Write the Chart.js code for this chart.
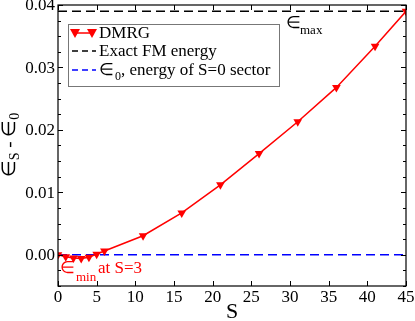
<!DOCTYPE html>
<html><head><meta charset="utf-8">
<script src="https://cdn.jsdelivr.net/npm/chart.js@4.4.0/dist/chart.umd.min.js"></script>
<style>html,body{margin:0;padding:0;background:#fff}#c{display:block}
.pre{font-family:"Liberation Serif";position:absolute;left:-999px}</style>
</head><body>
<span class="pre">0.04 ∈ S</span>
<canvas id="c" width="415" height="321"></canvas>
<script>
const sValues = [0,1,2,3,4,5,6,11,16,21,26,31,36,41,45];
const dmrgValues = [0,-0.0003,-0.0005,-0.0006,-0.0004,0.0001,0.0006,0.00305,0.0067,0.0112,0.0162,0.0213,0.0268,0.0334,0.039];
const exactFM = 0.039;
const e0 = 0;
const xRange = [0,45];
const yRange = [-0.005,0.04];
const xTickLabels = ['0','5','10','15','20','25','30','35','40','45'];
const yTickLabels = ['0.00','0.01','0.02','0.03','0.04'];

const SERIF = '"Liberation Serif", serif';

const framePlugin = {
  id:'frame',
  afterDraw(chart){
    const ctx = chart.ctx, a = chart.chartArea, xs = chart.scales.x, ys = chart.scales.y;
    ctx.save();
    ctx.strokeStyle='#000'; ctx.lineWidth=1.2;
    ctx.strokeRect(a.left, a.top, a.right-a.left, a.bottom-a.top);
    ctx.lineWidth=1;
    for(let v=0; v<=45; v+=5){
      const px = Math.round(xs.getPixelForValue(v))+0.5;
      ctx.beginPath(); ctx.moveTo(px,a.bottom); ctx.lineTo(px,a.bottom-5);
      ctx.moveTo(px,a.top); ctx.lineTo(px,a.top+5); ctx.stroke();
    }
    for(let i=-2;i<=16;i++){
      const v=i*0.0025; const py=Math.round(ys.getPixelForValue(v))+0.5;
      const len = (i%4===0)?5:3;
      ctx.beginPath(); ctx.moveTo(a.left,py); ctx.lineTo(a.left+len,py);
      ctx.moveTo(a.right,py); ctx.lineTo(a.right-len,py); ctx.stroke();
    }
    ctx.fillStyle='#000'; ctx.font='17px '+SERIF;
    ctx.textAlign='center'; ctx.textBaseline='top';
    xTickLabels.forEach(t=>{ ctx.fillText(t, xs.getPixelForValue(+t), a.bottom+3); });
    ctx.textAlign='right'; ctx.textBaseline='middle';
    yTickLabels.forEach(t=>{ ctx.fillText(t, a.left-3, ys.getPixelForValue(+t)+1); });
    ctx.font='22px '+SERIF; ctx.textAlign='center'; ctx.textBaseline='alphabetic';
    ctx.fillText('S', (a.left+a.right)/2, 318);
    ctx.save();
    ctx.translate(15, 145); ctx.rotate(-Math.PI/2);
    ctx.textAlign='left';
    const parts=[['∈','19px',0],['S','14px',4],[' - ∈','19px',0],['0','14px',4]];
    let w=0; parts.forEach(p=>{ctx.font=p[1]+' '+SERIF; w+=ctx.measureText(p[0]).width;});
    let x=-w/2;
    parts.forEach(p=>{ctx.font=p[1]+' '+SERIF; ctx.fillText(p[0],x,p[2]); x+=ctx.measureText(p[0]).width;});
    ctx.restore();
    ctx.textAlign='left'; ctx.textBaseline='alphabetic';
    ctx.font='17px '+SERIF; ctx.fillStyle='#000';
    ctx.fillText('∈', 286, 28);
    ctx.font='13px '+SERIF; ctx.fillText('max', 300, 34);
    ctx.fillStyle='#ff0000';
    ctx.font='17px '+SERIF; ctx.fillText('∈', 60, 273);
    ctx.font='13px '+SERIF; ctx.fillText('min', 76, 281);
    ctx.font='17px '+SERIF; ctx.fillText('at S=3', 98, 273);
    const L=68,T=24,R=279,B=86;
    ctx.fillStyle='#fff'; ctx.fillRect(L,T,R-L,B-T);
    ctx.strokeStyle='#777'; ctx.lineWidth=1; ctx.strokeRect(L+0.5,T+0.5,R-L,B-T);
    const rows=[33,51,70];
    ctx.strokeStyle='#ff0000'; ctx.lineWidth=1.5; ctx.setLineDash([]);
    ctx.beginPath(); ctx.moveTo(73,rows[0]); ctx.lineTo(94,rows[0]); ctx.stroke();
    ctx.fillStyle='#ff0000';
    [75,92].forEach(cx=>{ctx.beginPath(); ctx.moveTo(cx-5,rows[0]-4); ctx.lineTo(cx+5,rows[0]-4); ctx.lineTo(cx,rows[0]+5); ctx.closePath(); ctx.fill();});
    ctx.strokeStyle='#000'; ctx.setLineDash([6,4]);
    ctx.beginPath(); ctx.moveTo(72,rows[1]); ctx.lineTo(96,rows[1]); ctx.stroke();
    ctx.strokeStyle='#0000ff';
    ctx.beginPath(); ctx.moveTo(72,rows[2]); ctx.lineTo(96,rows[2]); ctx.stroke();
    ctx.setLineDash([]);
    ctx.fillStyle='#000'; ctx.font='17px '+SERIF; ctx.textBaseline='middle';
    ctx.fillText('DMRG',99,rows[0]+1);
    ctx.fillText('Exact FM energy',99,rows[1]+1);
    let tx=99;
    ctx.fillText('∈',tx,rows[2]+1); tx+=ctx.measureText('∈').width;
    ctx.font='12px '+SERIF; ctx.fillText('0',tx+1,rows[2]+7); tx+=ctx.measureText('0').width+1;
    ctx.font='17px '+SERIF; ctx.fillText(', energy of S=0 sector',tx,rows[2]+1);
    ctx.restore();
  }
};

function build(){
new Chart(document.getElementById('c'), {
  type:'line',
  data:{
    datasets:[
      {label:'E0', data:xRange.map(x=>({x, y:e0})), borderColor:'#0000ff', borderWidth:1.5, borderDash:[9,5], pointRadius:0, order:3},
      {label:'Exact', data:xRange.map(x=>({x, y:exactFM})), borderColor:'#000', borderWidth:1.5, borderDash:[9,5], pointRadius:0, order:2},
      {label:'DMRG', data:sValues.map((s,i)=>({x:s, y:dmrgValues[i]})), borderColor:'#ff0000', backgroundColor:'#ff0000', borderWidth:1.5,
       pointStyle:'triangle', rotation:180, pointRadius:5, pointBorderWidth:0, tension:0, order:1}
    ]
  },
  options:{
    responsive:false, animation:false, devicePixelRatio:1,
    layout:{padding:{top:5, right:9, left:0, bottom:0}},
    plugins:{legend:{display:false}, tooltip:{enabled:false}},
    scales:{
      x:{type:'linear', min:xRange[0], max:xRange[1], grid:{display:false}, border:{display:false},
         ticks:{display:false}, afterFit(s){s.height=35;}},
      y:{type:'linear', min:yRange[0], max:yRange[1], grid:{display:false}, border:{display:false},
         ticks:{display:false}, afterFit(s){s.width=58;}}
    }
  },
  plugins:[framePlugin]
});
}
Promise.all([
  document.fonts.load('17px "Liberation Serif"'),
  document.fonts.load('17px "Liberation Serif"','∈')
]).then(build, build);
</script>
</body></html>
